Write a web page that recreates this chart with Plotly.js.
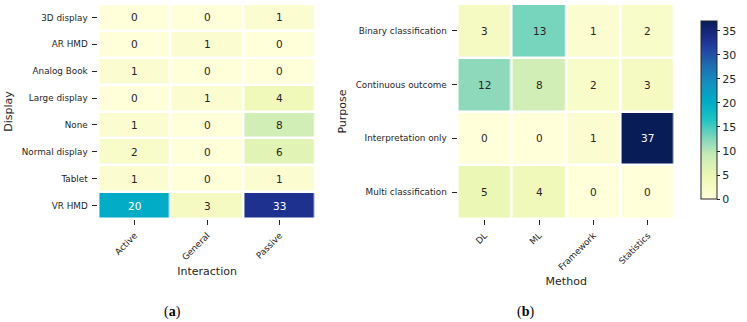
<!DOCTYPE html>
<html><head><meta charset="utf-8">
<script src="https://cdn.plot.ly/plotly-3.0.1.min.js"></script>
<style>html,body{margin:0;padding:0;background:#fff}#c{width:747px;height:322px}</style>
</head><body><div id="c"></div>
<script>
const displayCats = ["3D display","AR HMD","Analog Book","Large display","None","Normal display","Tablet","VR HMD"];
const interactionCats = ["Active","General","Passive"];
const displayValues = [
  [0,0,1],
  [0,1,0],
  [1,0,0],
  [0,1,4],
  [1,0,8],
  [2,0,6],
  [1,0,1],
  [20,3,33]
];
const purposeCats = ["Binary classification","Continuous outcome","Interpretation only","Multi classification"];
const methodCats = ["DL","ML","Framework","Statistics"];
const purposeValues = [
  [3,13,1,2],
  [12,8,2,3],
  [0,0,1,37],
  [5,4,0,0]
];
const colorbarTicks = [0,5,10,15,20,25,30,35];

const ylgnbu = [[0,'#ffffd9'],[0.125,'#eef8b4'],[0.25,'#c5eab6'],[0.33,'#8ad8bc'],[0.375,'#62d0be'],
  [0.45,'#1cc2c4'],[0.55,'#00aac6'],[0.65,'#1490c0'],[0.75,'#1f6cb0'],[0.85,'#2140a0'],[0.9,'#1e2e8c'],[1,'#081d58']];
const tickFont = {family:'DejaVu Sans', size:8.8, color:'#262626'};
const titleFont = {family:'DejaVu Sans', size:11, color:'#262626'};

const globalMax = Math.max(...displayValues.flat(), ...purposeValues.flat());
function annots(z, xs, ys, xref, yref, zmax){
  const out=[];
  z.forEach((row,i)=>row.forEach((v,j)=>{
    out.push({x:xs[j], y:ys[i], xref:xref, yref:yref, text:String(v), showarrow:false,
      font:{family:'DejaVu Sans', size:10.5, color: v/zmax>0.5 ? '#ffffff' : '#262626'}});
  }));
  return out;
}

const traces = [
  {type:'heatmap', z:displayValues, x:interactionCats, y:displayCats, xaxis:'x', yaxis:'y',
   colorscale:ylgnbu, zmin:0, zmax:globalMax, showscale:false, xgap:2.5, ygap:2.5, hoverinfo:'skip'},
  {type:'heatmap', z:purposeValues, x:methodCats, y:purposeCats, xaxis:'x2', yaxis:'y2',
   colorscale:ylgnbu, zmin:0, zmax:globalMax, xgap:2.5, ygap:2.5, hoverinfo:'skip',
   colorbar:{x:0.9398, xanchor:'left', y:0.658, yanchor:'middle', len:0.615, lenmode:'fraction',
     thickness:16, outlinewidth:1, outlinecolor:'#262626', ticks:'outside', ticklen:3, tickcolor:'#262626',
     tickvals:colorbarTicks, tickfont:{family:'DejaVu Sans', size:11, color:'#262626'}}}
];

const axX = {type:'category', ticks:'outside', ticklen:5, tickcolor:'#262626', tickangle:-45,
  tickfont:tickFont, ticklabelstandoff:2, showgrid:false, zeroline:false, showline:false, fixedrange:true};
const axY = {type:'category', autorange:'reversed', ticks:'outside', ticklen:5, tickcolor:'#262626',
  tickfont:tickFont, ticklabelstandoff:3, showgrid:false, zeroline:false, showline:false, fixedrange:true};

const layout = {
  width:747, height:322, margin:{l:0,r:0,t:0,b:0}, paper_bgcolor:'#fff', plot_bgcolor:'#fff',
  showlegend:false,
  xaxis:Object.assign({}, axX, {domain:[0.1339,0.4297], anchor:'y', title:{text:'Interaction', font:titleFont, standoff:6}}),
  yaxis:Object.assign({}, axY, {domain:[0.3199,0.9876], anchor:'x', title:{text:'Display', font:titleFont, standoff:6}}),
  xaxis2:Object.assign({}, axX, {domain:[0.6225,0.9183], anchor:'y2', title:{text:'Method', font:titleFont, standoff:6}}),
  yaxis2:Object.assign({}, axY, {domain:[0.3199,0.9876], anchor:'x2', title:{text:'Purpose', font:titleFont, standoff:6}}),
  annotations: annots(displayValues, interactionCats, displayCats, 'x', 'y', globalMax)
    .concat(annots(purposeValues, methodCats, purposeCats, 'x2', 'y2', globalMax))
    .concat([
      {xref:'paper', yref:'paper', x:165/747, y:1-312/322, yanchor:'middle', text:'(<b>a</b>)', showarrow:false, font:{family:'Liberation Serif', size:14, color:'#000'}},
      {xref:'paper', yref:'paper', x:545/747, y:1-312/322, yanchor:'middle', text:'(<b>b</b>)', showarrow:false, font:{family:'Liberation Serif', size:14, color:'#000'}}
    ])
};
Plotly.newPlot('c', traces, layout, {staticPlot:true, displayModeBar:false});
</script></body></html>
